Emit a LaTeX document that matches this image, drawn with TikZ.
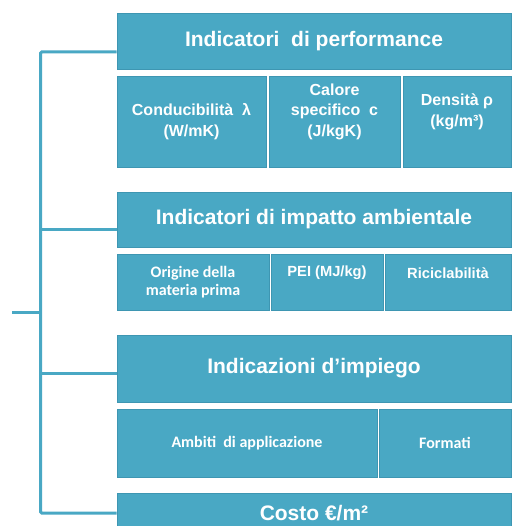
\documentclass[tikz,border=0pt]{standalone}
\usepackage{fontspec}
\setmainfont{Liberation Sans}
\newfontfamily\calib{Carlito}
\definecolor{boxblue}{RGB}{73,168,196}
\definecolor{boxedge}{RGB}{62,150,178}

\begin{document}
\begin{tikzpicture}[x=1pt, y=-1pt,
  box/.style={draw=boxedge, line width=0.6pt, fill=boxblue, text=white, inner sep=0pt, align=center},
  head/.style={box, minimum width=394pt, font=\fontsize{21}{25}\selectfont\bfseries},
  sub/.style={box, font=\fontsize{16}{20.5}\selectfont\bfseries},
  subc/.style={box, font=\calib\fontsize{16}{18}\selectfont\bfseries},
  subtext/.style={text=white, inner sep=0pt, align=center},
  link/.style={draw=boxblue, line width=3pt, rounded corners=1pt}]
\useasboundingbox (0,0) rectangle (511,526);
% Headers
\node[head, minimum height=56pt] (perf) at (314,41) {Indicatori\ \ di performance};
\node[head, minimum height=55pt] (impact) at (314,219.5) {Indicatori di impatto ambientale};
\node[head, minimum height=67pt] (usage) at (314,368.5) {Indicazioni d’impiego};
\node[head, minimum height=40pt] (cost) at (314,513) {Costo €/m²};
% Performance
\node[sub, minimum width=149pt, minimum height=91pt] (cond) at (191.5,121.5) {Conducibilità\ \ λ\\(W/mK)};
\node[sub, minimum width=131pt, minimum height=91pt] (heat) at (334.5,121.5) {};
\node[sub, minimum width=108pt, minimum height=91pt] (dens) at (457,121.5) {};
\node[subtext, font=\fontsize{16}{20.5}\selectfont\bfseries] (heatt) at ([yshift=10pt]heat.center) {Calore\\specifico\ \ c\\(J/kgK)};
\node[subtext, font=\fontsize{16}{20.5}\selectfont\bfseries] (denst) at ([yshift=9.5pt]dens.center) {Densità ρ\\(kg/m³)};
% Impatto ambientale
\node[subc, minimum width=152pt, minimum height=56pt] (origin) at (193,282) {Origine della\\materia prima};
\node[sub, minimum width=112pt, minimum height=56pt] (pei) at (327,282) {};
\node[sub, minimum width=126pt, minimum height=56pt] (recycle) at (448,282) {};
\node[subtext, font=\fontsize{14.7}{18}\selectfont\bfseries] (peit) at ([yshift=9pt]pei.center) {PEI (MJ/kg)};
\node[subtext, font=\fontsize{14.7}{18}\selectfont\bfseries] (recyclet) at ([yshift=9pt]recycle.center) {Riciclabilità};
% Impiego
\node[subc, minimum width=260pt, minimum height=68pt] (scope) at (247,443) {Ambiti\ \ di applicazione};
\node[subc, minimum width=132pt, minimum height=68pt] (formats) at (445,443) {Formati};
% Lines
\coordinate (stub) at (12,312);
\draw[link] ([yshift=-11pt]perf.west) -- ++(-76,0) |- (cost.west);
\draw[link] ([yshift=-9.5pt]impact.west) -- ++(-76,0);
\draw[link] ([yshift=-4.5pt]usage.west) -- ++(-76,0);
\draw[link] (stub) -- ++(29,0);
\end{tikzpicture}
\end{document}
